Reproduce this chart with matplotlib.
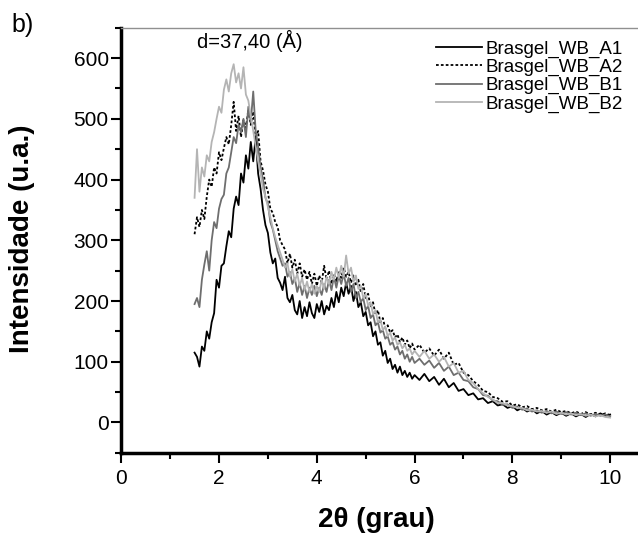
"""XRD patterns of the Brasgel_WB samples (panel b)."""

import numpy as np
import matplotlib.pyplot as plt
from matplotlib.ticker import MultipleLocator

plt.rcParams["font.family"] = ["Liberation Sans", "DejaVu Sans"]

# 2theta grid: fine step up to 6 deg, coarser after
two_theta = np.concatenate([np.arange(1.50, 6.001, 0.05), np.arange(6.1, 10.001, 0.1)])

a1 = [
    115, 108, 92, 125, 118, 150, 138, 165, 180, 235,
    222, 258, 262, 290, 315, 305, 352, 372, 358, 410,
    395, 440, 418, 462, 430, 470, 410, 385, 350, 325,
    312, 280, 262, 270, 238, 230, 218, 240, 205, 198,
    210, 185, 178, 200, 172, 190, 175, 198, 180, 172,
    195, 182, 200, 178, 192, 185, 205, 190, 215, 198,
    222, 208, 230, 212, 225, 200, 215, 190, 198, 175,
    182, 160, 165, 142, 150, 128, 132, 110, 118, 98,
    105, 88, 95, 82, 92, 78, 85, 75, 82, 72,
    78,
    70, 80, 68, 75, 62, 72, 58, 65, 52, 55,
    45, 48, 38, 40, 32, 35, 28, 30, 24, 27,
    20, 24, 18, 22, 15, 19, 13, 17, 12, 16,
    11, 15, 10, 14, 9, 14, 10, 15, 11, 13,
]
a2 = [
    310, 338, 322, 350, 335, 372, 400, 388, 420, 410,
    445, 432, 452, 470, 458, 490, 528, 480, 505, 470,
    498, 485, 515, 490, 512, 470, 480, 430, 415, 392,
    380, 352, 345, 330, 322, 300, 292, 285, 262, 278,
    255, 268, 245, 262, 240, 252, 235, 248, 228, 245,
    225, 242, 230, 258, 235, 250, 228, 245, 232, 250,
    238, 255, 240, 248, 230, 242, 225, 235, 215, 228,
    205, 212, 190, 198, 178, 185, 165, 172, 155, 160,
    148, 152, 140, 145, 132, 140, 128, 135, 122, 130,
    120,
    128, 115, 122, 110, 120, 105, 115, 95, 98, 82,
    78, 68, 62, 52, 50, 42, 40, 34, 35, 28,
    30, 25, 27, 22, 24, 20, 22, 18, 21, 17,
    19, 15, 18, 14, 17, 13, 16, 12, 15, 12,
]
b1 = [
    195, 205, 190, 235, 260, 282, 250, 300, 330, 320,
    352, 368, 375, 410, 420, 445, 470, 460, 490, 478,
    500, 470, 520, 495, 545, 480, 455, 420, 400, 370,
    360, 330, 318, 300, 282, 270, 258, 262, 240, 248,
    228, 238, 215, 230, 210, 225, 205, 222, 210, 225,
    208, 222, 210, 228, 215, 235, 218, 240, 222, 242,
    228, 245, 225, 238, 215, 228, 205, 215, 198, 205,
    185, 192, 172, 178, 160, 165, 148, 152, 138, 142,
    128, 132, 120, 125, 112, 118, 105, 112, 100, 108,
    98,
    105, 95, 102, 90, 98, 85, 92, 78, 82, 70,
    68, 58, 55, 45, 44, 36, 35, 29, 30, 24,
    26, 21, 23, 18, 20, 16, 19, 15, 18, 14,
    17, 13, 16, 12, 15, 11, 14, 11, 13, 10,
]
b2 = [
    370, 450, 380, 420, 405, 440, 430, 462, 478, 500,
    520, 510, 548, 565, 545, 575, 590, 560, 575, 550,
    585, 540, 530, 505, 480, 455, 430, 410, 385, 372,
    355, 338, 320, 305, 292, 280, 268, 255, 262, 240,
    252, 232, 245, 225, 238, 218, 232, 215, 228, 212,
    225, 215, 235, 220, 240, 228, 248, 235, 255, 238,
    258, 240, 275, 245, 255, 232, 242, 220, 225, 205,
    212, 192, 198, 178, 185, 165, 170, 152, 158, 142,
    148, 135, 140, 128, 132, 122, 128, 118, 122, 112,
    118,
    108, 118, 105, 112, 100, 108, 92, 98, 82, 85,
    70, 65, 55, 48, 42, 38, 32, 32, 28, 27,
    24, 24, 20, 21, 18, 19, 16, 18, 14, 16,
    13, 15, 12, 14, 11, 13, 10, 12, 9, 8,
]

labels = ["Brasgel_WB_A1", "Brasgel_WB_A2", "Brasgel_WB_B1", "Brasgel_WB_B2"]


def main() -> None:
    fig = plt.figure(figsize=(6.38, 5.34), dpi=100)
    # axes run past the right edge, as in the cropped original
    ax = fig.add_axes([0.19, 0.152, 0.843, 0.796])

    ax.plot(two_theta, a1, color="black", lw=1.3, label=labels[0])
    ax.plot(two_theta, a2, color="black", lw=1.3, ls=(0, (1.5, 1.2)), label=labels[1])
    ax.plot(two_theta, b1, color="#6e6e6e", lw=1.3, label=labels[2])
    ax.plot(two_theta, b2, color="#b4b4b4", lw=1.3, label=labels[3])

    ax.set_xlim(0, 11)
    ax.set_ylim(-50, 650)
    ax.xaxis.set_major_locator(MultipleLocator(2))
    ax.xaxis.set_minor_locator(MultipleLocator(1))
    ax.yaxis.set_major_locator(MultipleLocator(100))
    ax.yaxis.set_minor_locator(MultipleLocator(50))
    ax.tick_params(which="major", direction="out", length=7, width=1.5, labelsize=15)
    ax.tick_params(axis="x", which="major", pad=5)
    ax.tick_params(axis="y", which="major", pad=2)
    ax.tick_params(which="minor", direction="out", length=4, width=1.5)
    ax.tick_params(top=False, right=False, which="both")

    ax.spines["left"].set_linewidth(2.5)
    ax.spines["bottom"].set_linewidth(2.5)
    ax.spines["top"].set_color("#909090")
    ax.spines["top"].set_linewidth(1.0)
    ax.spines["right"].set_visible(False)

    ax.set_xlabel("2θ (grau)", fontsize=20, fontweight="bold", va="center")
    ax.xaxis.set_label_coords(0.474, -0.158)
    ax.set_ylabel("Intensidade (u.a.)", fontsize=20, fontweight="bold", va="center")
    ax.yaxis.set_label_coords(-0.184, 0.504)

    ax.text(2.62, 628, "d=37,40 (Å)", fontsize=14.5, ha="center", va="center")
    fig.text(0.018, 0.953, "b)", fontsize=18, ha="left", va="center")

    ax.legend(loc="upper left", bbox_to_anchor=(0.683, 0.924),
              bbox_transform=fig.transFigure, frameon=False, fontsize=13.5,
              handlelength=2.45, handletextpad=0.2, labelspacing=0.05,
              borderpad=0, borderaxespad=0)

    fig.savefig("out.png", dpi=100)
    plt.close(fig)


if __name__ == "__main__":
    main()
